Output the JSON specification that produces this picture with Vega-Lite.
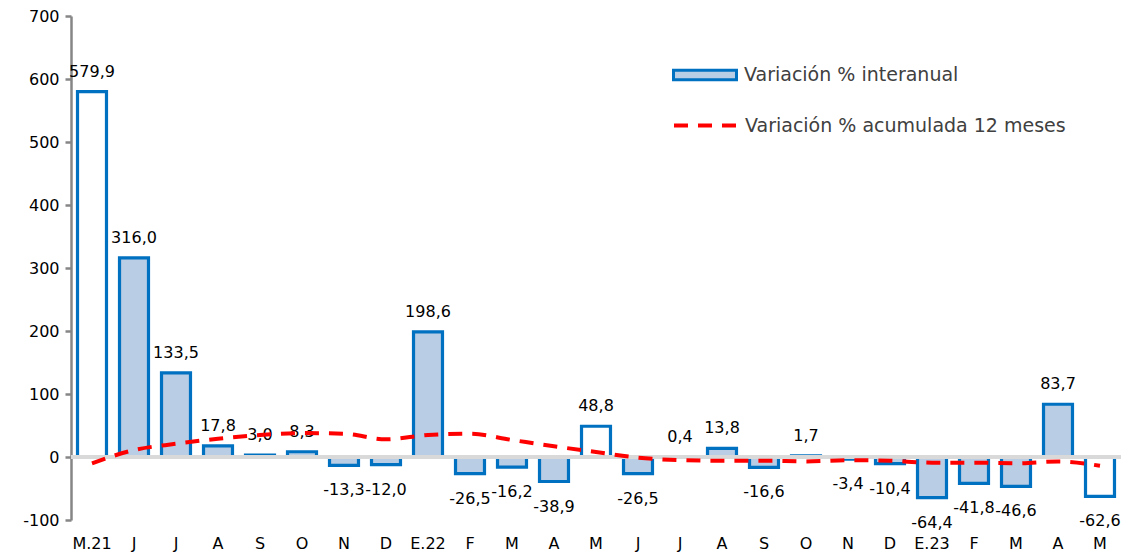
{
  "$schema": "https://vega.github.io/schema/vega-lite/v6.json",
  "width": 1050,
  "height": 504,
  "autosize": {"type": "none"},
  "padding": {"left": 71, "top": 16, "right": 12, "bottom": 38},
  "background": "white",
  "config": {
    "view": {"stroke": null},
    "font": "DejaVu Sans",
    "locale": {"number": {"decimal": ",", "thousands": ".", "grouping": [3], "currency": ["", " €"], "minus": "-"}}
  },
  "data": {
    "values": [
      {"fecha": "2021-05", "interanual": 579.9, "acumulada": -10},
      {"fecha": "2021-06", "interanual": 316.0, "acumulada": 11},
      {"fecha": "2021-07", "interanual": 133.5, "acumulada": 21},
      {"fecha": "2021-08", "interanual": 17.8, "acumulada": 29},
      {"fecha": "2021-09", "interanual": 3.0, "acumulada": 35},
      {"fecha": "2021-10", "interanual": 8.3, "acumulada": 38},
      {"fecha": "2021-11", "interanual": -13.3, "acumulada": 37},
      {"fecha": "2021-12", "interanual": -12.0, "acumulada": 28},
      {"fecha": "2022-01", "interanual": 198.6, "acumulada": 35},
      {"fecha": "2022-02", "interanual": -26.5, "acumulada": 37},
      {"fecha": "2022-03", "interanual": -16.2, "acumulada": 27},
      {"fecha": "2022-04", "interanual": -38.9, "acumulada": 17},
      {"fecha": "2022-05", "interanual": 48.8, "acumulada": 8},
      {"fecha": "2022-06", "interanual": -26.5, "acumulada": -1},
      {"fecha": "2022-07", "interanual": 0.4, "acumulada": -5},
      {"fecha": "2022-08", "interanual": 13.8, "acumulada": -6},
      {"fecha": "2022-09", "interanual": -16.6, "acumulada": -6},
      {"fecha": "2022-10", "interanual": 1.7, "acumulada": -7},
      {"fecha": "2022-11", "interanual": -3.4, "acumulada": -5},
      {"fecha": "2022-12", "interanual": -10.4, "acumulada": -6},
      {"fecha": "2023-01", "interanual": -64.4, "acumulada": -9},
      {"fecha": "2023-02", "interanual": -41.8, "acumulada": -9},
      {"fecha": "2023-03", "interanual": -46.6, "acumulada": -10},
      {"fecha": "2023-04", "interanual": 83.7, "acumulada": -7},
      {"fecha": "2023-05", "interanual": -62.6, "acumulada": -14}
    ]
  },
  "encoding": {
    "x": {
      "field": "fecha",
      "type": "ordinal",
      "sort": null,
      "scale": {"paddingInner": 0.31, "paddingOuter": 0.155},
      "axis": {
        "title": null,
        "domain": false,
        "ticks": false,
        "labelAngle": 0,
        "labelPadding": 15,
        "labelFontSize": 16,
        "labelColor": "#000000",
        "labelExpr": "datum.value == '2021-05' ? 'M.21' : datum.value == '2022-01' ? 'E.22' : datum.value == '2023-01' ? 'E.23' : ['E','F','M','A','M','J','J','A','S','O','N','D'][toNumber(slice(datum.value,5))-1]"
      }
    }
  },
  "layer": [
    {
      "mark": {"type": "bar", "stroke": "#0070C0", "strokeWidth": 3.2},
      "encoding": {
        "y": {
          "field": "interanual",
          "type": "quantitative",
          "scale": {"domain": [-100, 700], "nice": false},
          "axis": {
            "title": null,
            "grid": false,
            "values": [-100, 0, 100, 200, 300, 400, 500, 600, 700],
            "domainColor": "#868686",
            "domainWidth": 2.5,
            "tickColor": "#868686",
            "tickWidth": 2.5,
            "tickSize": 6,
            "labelFontSize": 16,
            "labelColor": "#000000",
            "labelPadding": 6
          }
        },
        "fill": {
          "condition": {"test": "datum.fecha == '2021-05' || datum.fecha == '2022-05' || datum.fecha == '2023-05'", "value": "#FFFFFF"},
          "datum": "Variación % interanual",
          "scale": {"range": ["#B9CDE5"]},
          "legend": {
            "title": null,
            "orient": "none",
            "legendX": 601,
            "legendY": 26,
            "symbolType": "M-1,-0.15H1V0.15H-1Z",
            "symbolSize": 3969,
            "symbolStrokeColor": "#0070C0",
            "symbolStrokeWidth": 3,
            "symbolFillColor": "#B9CDE5",
            "labelFontSize": 19,
            "labelLimit": 450,
            "labelColor": "#404040",
            "labelOffset": 6
          }
        }
      }
    },
    {
      "mark": {"type": "text", "baseline": "middle", "dy": -20, "fontSize": 16, "color": "#000000"},
      "transform": [{"filter": "datum.interanual >= 0"}],
      "encoding": {
        "y": {"field": "interanual", "type": "quantitative"},
        "text": {"field": "interanual", "type": "quantitative", "format": ".1f"}
      }
    },
    {
      "mark": {"type": "text", "baseline": "middle", "dy": 25, "fontSize": 16, "color": "#000000"},
      "transform": [{"filter": "datum.interanual < 0"}],
      "encoding": {
        "y": {"field": "interanual", "type": "quantitative"},
        "text": {"field": "interanual", "type": "quantitative", "format": ".1f"}
      }
    },
    {
      "mark": {"type": "rule", "color": "#D9D9D9", "strokeWidth": 3},
      "encoding": {"y": {"datum": 0}, "x": null}
    },
    {
      "mark": {"type": "line", "interpolate": "monotone", "strokeWidth": 4, "strokeDash": [14, 10]},
      "encoding": {
        "y": {"field": "acumulada", "type": "quantitative"},
        "stroke": {
          "datum": "Variación % acumulada 12 meses",
          "scale": {"range": ["#FF0000"]},
          "legend": {
            "title": null,
            "orient": "none",
            "legendX": 601,
            "legendY": 76,
            "symbolType": "stroke",
            "symbolSize": 3969,
            "symbolDash": [14, 10],
            "symbolStrokeWidth": 4,
            "symbolStrokeColor": "#FF0000",
            "labelFontSize": 19,
            "labelLimit": 450,
            "labelColor": "#404040",
            "labelOffset": 6
          }
        }
      }
    }
  ]
}
